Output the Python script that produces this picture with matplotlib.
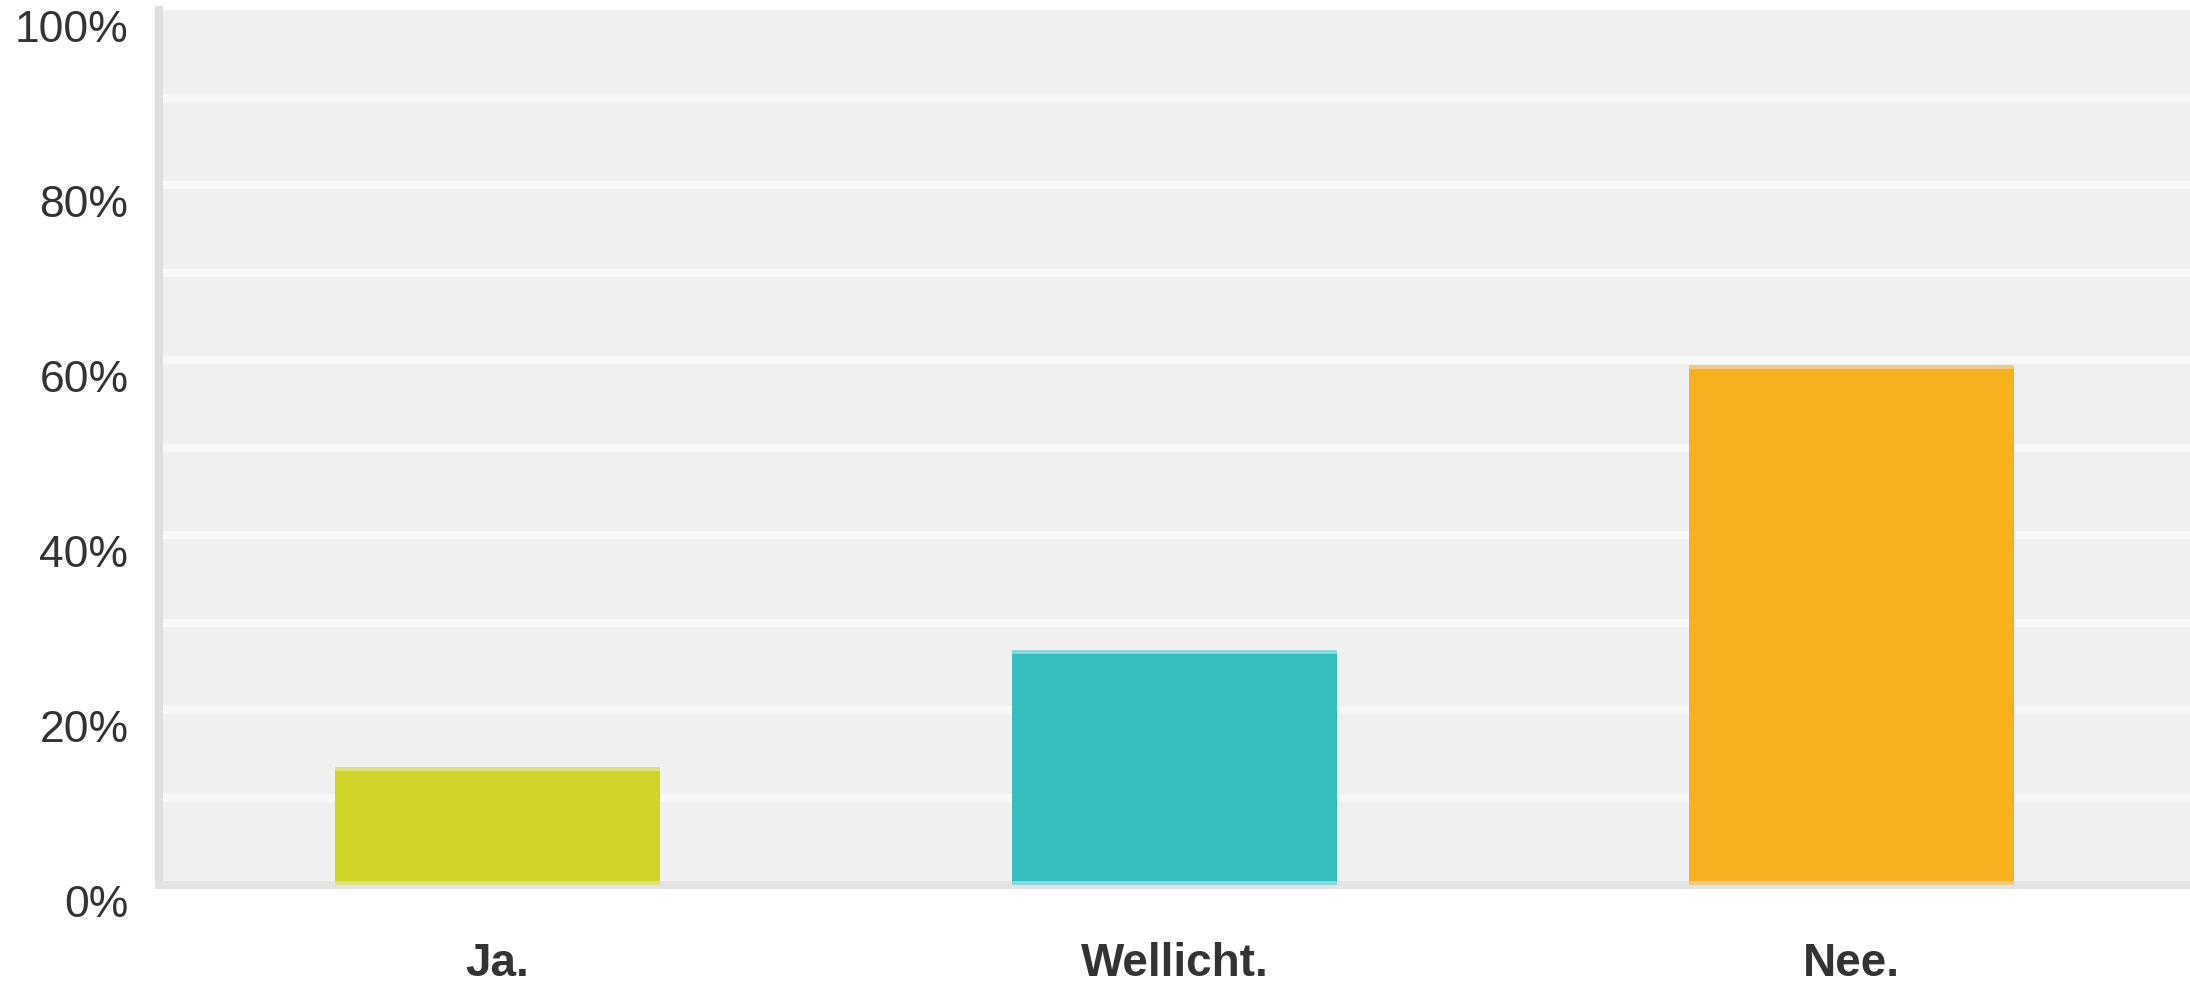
import numpy as np
import matplotlib
matplotlib.use('Agg')
import matplotlib.pyplot as plt
from matplotlib.transforms import ScaledTranslation

# survey answers and share of respondents (%)
answers = ['Ja.', 'Wellicht.', 'Nee.']
shares = [13.5, 26.9, 59.4]
bar_colors = ['#cfd427', '#35bdbf', '#f7b020']
edge_colors = ['#dcdf82', '#8ad7d7', '#f0ca84']
y_ticks = [0, 20, 40, 60, 80, 100]
y_labels = ['0%', '20%', '40%', '60%', '80%', '100%']

plt.rcParams['font.family'] = ['Liberation Sans', 'DejaVu Sans']

fig = plt.figure(figsize=(21.9, 9.84), dpi=100)
ax = fig.add_axes([159/2190, 99/984, 1 - 159/2190, 875/984])
ax.set_facecolor('#f0f0f0')

x = np.arange(len(answers))
stripe = 0.457
ax.bar(x, shares, width=0.48, color=bar_colors, zorder=3)
# lighter band at the top and bottom of each bar
ax.bar(x, stripe, bottom=np.array(shares) - stripe, width=0.48, color=edge_colors, zorder=3)
ax.bar(x, stripe, bottom=0, width=0.48, color=edge_colors, zorder=3)

ax.set_xlim(-0.5, 2.5)
ax.set_ylim(0, 100)
ax.set_xticks(x)
ax.set_xticklabels(answers, fontsize=33, fontweight='bold', color='#333333')
ax.set_yticks(y_ticks)
ax.set_yticklabels(y_labels, fontsize=32, color='#333333')
ax.set_yticks(np.arange(10, 100, 20), minor=True)
ax.tick_params(axis='both', which='both', length=0)
ax.tick_params(axis='x', pad=41)
ax.tick_params(axis='y', pad=22)

for lab in ax.get_yticklabels():
    lab.set_transform(lab.get_transform() + ScaledTranslation(0, -0.16, fig.dpi_scale_trans))

ax.grid(axis='y', which='both', color='#f8f8f8', linewidth=5.76)
ax.set_axisbelow(True)
gl = ax.yaxis.get_gridlines()
gl[0].set_visible(False)
gl[-1].set_visible(False)

ax.spines['top'].set_visible(False)
ax.spines['right'].set_visible(False)
ax.spines['left'].set_color('#dedede')
ax.spines['left'].set_linewidth(5.76)
ax.spines['bottom'].set_color('#e3e3e3')
ax.spines['bottom'].set_linewidth(5.76)

fig.savefig('out.png', dpi=100, facecolor='white')
